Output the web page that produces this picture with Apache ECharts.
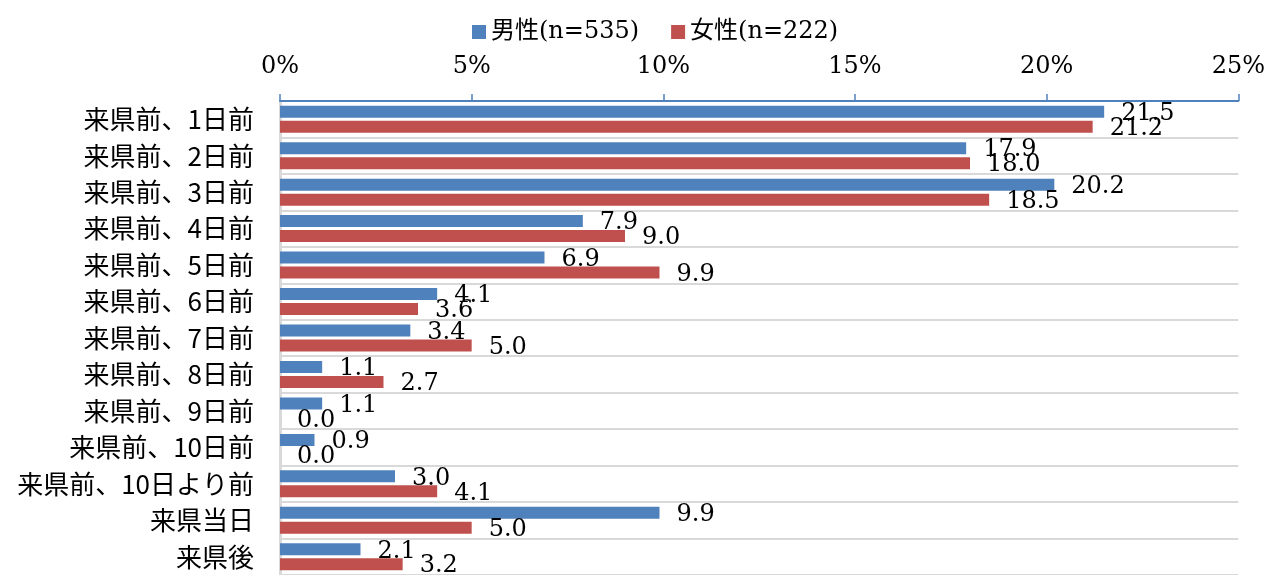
<!DOCTYPE html>
<html><head><meta charset="utf-8">
<script src="https://cdn.jsdelivr.net/npm/echarts@6/dist/echarts.min.js"></script>
<style>html,body{margin:0;padding:0;background:#fff}#c{width:1268px;height:575px}</style>
</head><body><div id="c"></div>
<script>
const categories = ['来県前、1日前','来県前、2日前','来県前、3日前','来県前、4日前','来県前、5日前','来県前、6日前','来県前、7日前','来県前、8日前','来県前、9日前','来県前、10日前','来県前、10日より前','来県当日','来県後'];
const maleName = '男性(n=535)';
const femaleName = '女性(n=222)';
const maleValues = [21.5, 17.9, 20.2, 7.9, 6.9, 4.1, 3.4, 1.1, 1.1, 0.9, 3.0, 9.9, 2.1];
const femaleValues = [21.2, 18.0, 18.5, 9.0, 9.9, 3.6, 5.0, 2.7, 0.0, 0.0, 4.1, 5.0, 3.2];

const serif = 'DejaVu Serif, Noto Sans CJK JP';
const chart = echarts.init(document.getElementById('c'));
const lbl = {
  show: true, position: 'right', distance: 17, offset: [0, 2],
  fontFamily: serif, fontSize: 24, color: '#000',
  formatter: p => p.value.toFixed(1)
};
chart.setOption({
  animation: false,
  legend: {
    top: 15, left: 467, itemWidth: 14, itemHeight: 14, itemGap: 32, icon: 'rect',
    textStyle: { fontFamily: serif, fontSize: 24, color: '#000' },
    data: [maleName, femaleName]
  },
  grid: { left: 280, right: 28, top: 101, bottom: 0, containLabel: false },
  xAxis: {
    type: 'value', position: 'top', min: 0, max: 25, interval: 5,
    axisLine: { show: true, lineStyle: { color: '#4f81bd', width: 2 } },
    axisTick: { show: true, length: 7, lineStyle: { color: '#4f81bd', width: 1.5 } },
    axisLabel: { formatter: '{value}%', fontFamily: serif, fontSize: 24, color: '#000', margin: 22 },
    splitLine: { show: false }
  },
  yAxis: {
    type: 'category', inverse: true, data: categories,
    axisLine: { show: true, lineStyle: { color: '#d9d9d9', width: 3 } },
    axisTick: { show: false },
    splitLine: { show: true, lineStyle: { color: '#d9d9d9', width: 2 } },
    axisLabel: { fontFamily: 'Noto Sans CJK JP', fontSize: 26, color: '#000', margin: 26 }
  },
  series: [
    { name: maleName, type: 'bar', data: maleValues, barCategoryGap: '26%', barGap: '25%',
      itemStyle: { color: '#4f81bd' }, label: lbl },
    { name: femaleName, type: 'bar', data: femaleValues, barCategoryGap: '26%', barGap: '25%',
      itemStyle: { color: '#c0504d' }, label: lbl }
  ]
});
</script></body></html>
